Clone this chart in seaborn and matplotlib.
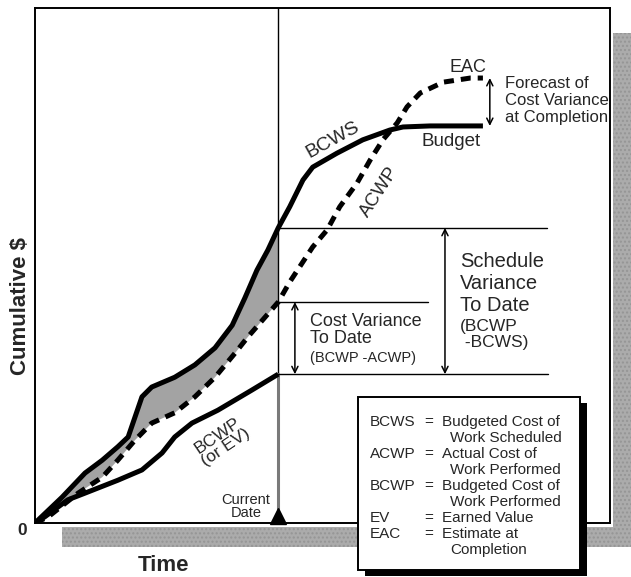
import numpy as np
import pandas as pd
import seaborn as sns
import matplotlib.pyplot as plt
from matplotlib.patches import Rectangle

# curves (time 0-100, cumulative $ 0-100)
bcws_t = [0, 4.7, 8.7, 11.7, 14.4, 16.2, 17.4, 18.6, 20.3, 24.3, 27.8, 31.3,
          34.3, 36.5, 38.6, 40.5, 42.3, 44.3, 46.6, 48.3, 52.5, 57.0, 61.7,
          64.0, 68.7, 77.9]
bcws_v = [0, 5.0, 9.7, 12.2, 14.8, 16.7, 20.6, 24.5, 26.4, 28.3, 30.7, 34.0,
          38.4, 43.7, 49.1, 53.0, 57.3, 61.4, 66.6, 69.1, 71.8, 74.4, 76.3,
          76.9, 77.1, 77.1]
acwp_t = [0, 2.3, 7.5, 11.7, 14.4, 17.4, 20.3, 24.3, 27.8, 31.3, 34.8, 37.0,
          42.3, 44.3, 48.3, 50.8, 53.0, 56.0, 58.3, 60.5, 63.0, 64.7, 67.0,
          71.0, 75.7, 77.9]
acwp_v = [0, 1.2, 5.8, 8.9, 12.2, 16.1, 19.4, 21.4, 24.5, 28.3, 33.0, 36.1,
          42.9, 46.8, 53.6, 56.9, 61.4, 66.0, 70.5, 74.4, 77.7, 80.8, 83.5,
          85.6, 86.4, 86.4]
bcwp_t = [0, 1.7, 5.7, 8.7, 14.4, 18.6, 22.1, 24.3, 27.3, 31.8, 37.7, 42.3]
bcwp_v = [0, 1.2, 4.5, 5.8, 8.3, 10.3, 13.6, 16.7, 19.4, 21.9, 25.8, 28.9]
current_date = 42.3

legend_abbr = ["BCWS", "", "ACWP", "", "BCWP", "", "EV", "EAC", ""]
legend_text = ["Budgeted Cost of", "Work Scheduled", "Actual Cost of",
               "Work Performed", "Budgeted Cost of", "Work Performed",
               "Earned Value", "Estimate at", "Completion"]

sns.set_style("white")
plt.rcParams['font.family'] = ['Liberation Sans', 'DejaVu Sans']

fig = plt.figure(figsize=(6.31, 5.77), dpi=100)
ax = fig.add_axes([35/631, 54/577, 575/631, 515/577])
ax.set_xlim(0, 100)
ax.set_ylim(0, 100)
ax.set_xticks([])
ax.set_yticks([])
for s in ax.spines.values():
    s.set_color('black')
    s.set_linewidth(1.4)

# gray drop shadow of the frame
gray = '#ababab'
ax.add_patch(Rectangle((100.5, -4.7), 3.4, 99.8, facecolor=gray, hatch='....',
                       edgecolor='#959595', lw=0, clip_on=False, zorder=0))
ax.add_patch(Rectangle((4.7, -4.7), 99.2, 3.9, facecolor=gray, hatch='....',
                       edgecolor='#959595', lw=0, clip_on=False, zorder=0))

# shaded band between BCWS and ACWP up to the current date
pre_b = [(t, v) for t, v in zip(bcws_t, bcws_v) if t <= current_date]
pre_a = [(t, v) for t, v in zip(acwp_t, acwp_v) if t <= current_date]
poly = pre_b + pre_a[::-1]
ax.fill([p[0] for p in poly], [p[1] for p in poly], color='#a3a3a3', lw=0, zorder=1)

df_bcws = pd.DataFrame({'t': bcws_t, 'v': bcws_v})
df_acwp = pd.DataFrame({'t': acwp_t, 'v': acwp_v})
df_bcwp = pd.DataFrame({'t': bcwp_t, 'v': bcwp_v})

sv_top = bcws_v[bcws_t.index(current_date)]
cv_top = acwp_v[acwp_t.index(current_date)]
ev_lvl = bcwp_v[-1]
budget = bcws_v[-1]
eac = acwp_v[-1]

# current date line
ax.plot([current_date, current_date], [ev_lvl, 100], color='black', lw=1.0, zorder=2)
ax.plot([current_date, current_date], [0, ev_lvl], color='#7a7a7a', lw=2.2, zorder=2)
ax.plot([current_date], [1.3], marker='^', markersize=12, color='black',
        clip_on=False, zorder=5)

# reference levels
ax.plot([current_date, 89.0], [sv_top, sv_top], color='black', lw=1.0)
ax.plot([current_date, 68.3], [cv_top, cv_top], color='black', lw=1.0)
ax.plot([current_date, 89.2], [ev_lvl, ev_lvl], color='black', lw=1.0)

sns.lineplot(data=df_bcws, x='t', y='v', ax=ax, color='black', lw=3.6,
             solid_capstyle='butt', solid_joinstyle='round', zorder=4)
sns.lineplot(data=df_bcwp, x='t', y='v', ax=ax, color='black', lw=3.6,
             solid_capstyle='butt', solid_joinstyle='round', zorder=4)
sns.lineplot(data=df_acwp, x='t', y='v', ax=ax, color='black', lw=3.6,
             linestyle=(0, (2.0, 1.4)), dash_capstyle='butt', zorder=4)
ax.set_xlabel('')
ax.set_ylabel('')

arr = dict(arrowstyle='<->', color='black', lw=1.1, mutation_scale=11,
           shrinkA=0, shrinkB=0)
ax.annotate('', xy=(71.3, sv_top), xytext=(71.3, ev_lvl), arrowprops=arr)
ax.annotate('', xy=(45.2, cv_top), xytext=(45.2, ev_lvl), arrowprops=arr)
ax.annotate('', xy=(79.1, eac), xytext=(79.1, budget), arrowprops=arr)

# labels on the chart
ax.text(75.3, 88.5, 'EAC', fontsize=13, ha='center', va='center')
for y, s in zip([85.4, 82.1, 78.8], ['Forecast of', 'Cost Variance', 'at Completion']):
    ax.text(81.7, y, s, fontsize=12, ha='left', va='center',
            family=['Liberation Sans Narrow', 'Liberation Sans'])
ax.text(51.8, 74.4, 'BCWS', fontsize=14, rotation=29, ha='center', va='center',
        rotation_mode='anchor')
ax.text(67.3, 74.0, 'Budget', fontsize=13.5, ha='left', va='center')
ax.text(60.0, 64.3, 'ACWP', fontsize=13.5, rotation=57, ha='center', va='center',
        rotation_mode='anchor')
for y, s in zip([50.7, 46.6, 42.3], ['Schedule', 'Variance', 'To Date']):
    ax.text(73.9, y, s, fontsize=14.5, ha='left', va='center')
for y, s in zip([38.1, 35.0], ['(BCWP', ' -BCWS)']):
    ax.text(73.9, y, s, fontsize=12.5, ha='left', va='center')
for y, s, fs in zip([39.2, 35.9, 32.0], ['Cost Variance', 'To Date', '(BCWP -ACWP)'],
                    [13, 13, 10.5]):
    ax.text(47.8, y, s, fontsize=fs, ha='left', va='center')
ax.text(32.5, 15.8, 'BCWP\n(or EV)', fontsize=12.5, rotation=34, ha='center',
        va='center', rotation_mode='anchor', linespacing=0.9, multialignment='center')
ax.text(36.7, 4.5, 'Current', fontsize=10.5, ha='center', va='center')
ax.text(36.7, 1.9, 'Date', fontsize=10.5, ha='center', va='center')

ax.text(-2.3, -1.55, '0', fontsize=12.5, fontweight='bold', ha='center', va='center',
        clip_on=False)
ax.text(22.3, -8.3, 'Time', fontsize=16, fontweight='bold', ha='center', va='center',
        clip_on=False)
ax.text(-2.6, 42.1, 'Cumulative $', fontsize=16, fontweight='bold', rotation=90,
        ha='center', va='center', clip_on=False)

# definitions box
ax.add_patch(Rectangle((57.4, -10.3), 38.6, 33.6, facecolor='black', lw=0,
                       clip_on=False, zorder=6))
ax.add_patch(Rectangle((56.2, -9.1), 38.6, 33.6, facecolor='white',
                       edgecolor='black', lw=1.4, clip_on=False, zorder=7))
y = 19.6
for a, d in zip(legend_abbr, legend_text):
    if a:
        ax.text(58.3, y, a, fontsize=11, ha='left', va='center', zorder=8, clip_on=False)
        ax.text(67.7, y, '=', fontsize=11, ha='left', va='center', zorder=8, clip_on=False)
        ax.text(70.8, y, d, fontsize=11, ha='left', va='center', zorder=8, clip_on=False)
    else:
        ax.text(72.2, y, d, fontsize=11, ha='left', va='center', zorder=8, clip_on=False)
    y -= 3.1

plt.savefig('out.png', dpi=100)
